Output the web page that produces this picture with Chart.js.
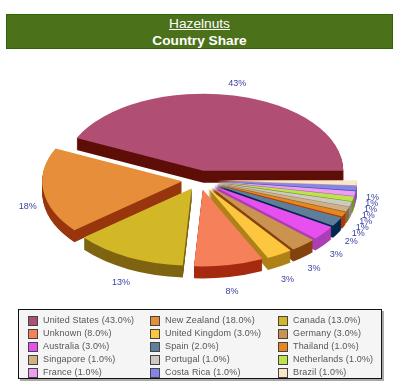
<!DOCTYPE html>
<html><head><meta charset="utf-8">
<script src="https://cdn.jsdelivr.net/npm/chart.js@4"></script>
<style>
html,body{margin:0;padding:0;background:#fff;overflow:hidden}
#wrap{position:relative;width:400px;height:388px;font-family:"Liberation Sans",Arial,sans-serif}
canvas{position:absolute;left:0;top:0}
#banner{position:absolute;left:6px;top:14px;width:385px;height:33px;background:#4b711b;border:1px solid #2f6408;color:#fff;text-align:center;font-size:13.7px;line-height:17px}
#banner u{display:block;margin-top:0}
#banner b{display:block}
#legend{position:absolute;left:18px;top:309px;width:362px;height:68px;background:#f5f5f5;border:1px solid #111;box-shadow:2px 2px 0 #aaa}
.sw{position:absolute;width:8px;height:8px;border:1px solid #444}
.tx{position:absolute;font-size:9px;letter-spacing:.15px;line-height:11px;color:#555;white-space:nowrap}
</style></head>
<body><div id="wrap">
<canvas id="c" width="400" height="388"></canvas>
<div id="banner"><u>Hazelnuts</u><b>Country Share</b></div>
<div id="legend"></div>
</div>
<script>
const categories=["United States","New Zealand","Canada","Unknown","United Kingdom","Germany","Australia","Spain","Thailand","Singapore","Portugal","Netherlands","France","Costa Rica","Brazil"];
const shares=[43,18,13,8,3,3,3,2,1,1,1,1,1,1,1];
const topColors=["#b04e74","#e68e39","#d2b726","#f58059","#fcc63e","#cc9250","#e650ef","#5d7f9b","#ea861e","#d1b084","#cfc9c3","#bfe34d","#ef9cf3","#8585e8","#fbe6cc"];
const sideColors=["#5e0f07","#98360e","#7f6412","#a52b10","#ae8218","#84430f","#ab3fb3","#04284d","#a83c0a","#8a6a3a","#8e8880","#6e9a1a","#a85cb0","#4a4ab0","#c9a880"];
const labelColor="#3a3f9e";
const squash=0.55, explode=17.4, depth=12;
const drawOrder=[0,14,13,12,11,10,9,8,7,6,5,4,1,2,3];

const pie3d={
  id:'pie3d',
  beforeDatasetsDraw(chart){
    const ctx=chart.ctx, arcs=chart.getDatasetMeta(0).data;
    const cy=arcs[0].y;
    const paint=(arc,color,dy)=>{
      const mid=(arc.startAngle+arc.endAngle)/2, o=arc.options;
      ctx.save();
      ctx.translate(0,cy+dy);
      ctx.scale(1,-squash);
      ctx.translate(0,-cy);
      ctx.translate(Math.cos(mid)*explode,Math.sin(mid)*explode);
      arc.options={...o,backgroundColor:color,borderColor:color,borderWidth:0};
      arc.draw(ctx);
      arc.options=o;
      ctx.restore();
    };
    drawOrder.forEach(i=>{
      for(let d=depth;d>0;d--) paint(arcs[i],sideColors[i],d);
      paint(arcs[i],topColors[i],0);
    });
    ctx.save();
    ctx.font='9px "Liberation Sans", Arial, sans-serif';
    ctx.fillStyle=labelColor;
    ctx.textAlign='center';ctx.textBaseline='middle';
    arcs.forEach((arc,i)=>{
      const mid=(arc.startAngle+arc.endAngle)/2, c=Math.cos(mid), s=Math.sin(mid);
      const rx=arc.outerRadius*1.236, ry=arc.outerRadius*0.707;
      const lx=arc.x+rx*c, ly=cy-ry*s+(s<0.05?14:0);
      ctx.fillText(shares[i]+'%',lx,ly);
    });
    ctx.restore();
    return false;
  }
};

new Chart(document.getElementById('c'),{
  type:'pie',
  data:{labels:categories,datasets:[{data:shares,backgroundColor:topColors,borderWidth:0,hoverOffset:0}]},
  options:{
    responsive:false,animation:false,rotation:90,
    layout:{padding:{left:59.5,right:60.5,top:40,bottom:68}},
    plugins:{legend:{display:false},tooltip:{enabled:false}}
  },
  plugins:[pie3d]
});

const legend=document.getElementById('legend');
const colX=[9,131,259], textX=[24,146,274], rowY=[7,20,33,46,59];
categories.forEach((name,i)=>{
  const col=i%3,row=Math.floor(i/3);
  const sw=document.createElement('div');sw.className='sw';
  sw.style.left=colX[col]+'px';sw.style.top=rowY[row]-1+'px';sw.style.background=topColors[i];
  const t=document.createElement('div');t.className='tx';
  t.style.left=textX[col]+'px';t.style.top=rowY[row]-2+'px';
  t.textContent=name+' ('+shares[i].toFixed(1)+'%)';
  legend.append(sw,t);
});
</script></body></html>
